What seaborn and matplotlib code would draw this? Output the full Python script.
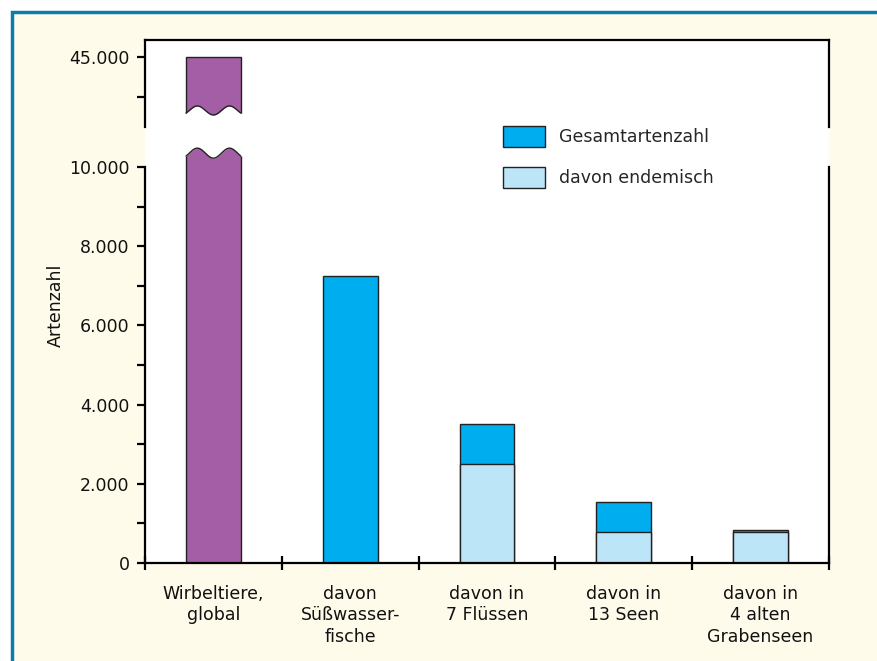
import seaborn as sns
import pandas as pd
import numpy as np
import matplotlib
import matplotlib.pyplot as plt
from matplotlib.patches import Patch, Rectangle
from matplotlib.ticker import FuncFormatter, FixedLocator

categories = ["Wirbeltiere,\nglobal", "davon\nSüßwasser-\nfische", "davon in\n7 Flüssen",
              "davon in\n13 Seen", "davon in\n4 alten\nGrabenseen"]
gesamt = [45000, 7250, 3500, 1540, 830]
endemisch = [np.nan, np.nan, 2500, 780, 780]
legend_labels = ["Gesamtartenzahl", "davon endemisch"]

purple = "#a45ea5"
blue = "#00adee"
lightblue = "#bde5f8"
cream = "#fefbea"
border = "#0a7daa"

df = pd.DataFrame({"kat": categories, "gesamt": gesamt, "endemisch": endemisch})

sns.set_theme(style="white")
plt.rcParams["font.family"] = ["DejaVu Sans"]
plt.rcParams["font.size"] = 12.5

fig = plt.figure(figsize=(8.77, 6.61), dpi=100, facecolor="white")
W, H = 877, 661
bg = Rectangle((12 / W, -0.1), 1.2, 1.1 - 12 / H,
               transform=fig.transFigure, facecolor=cream,
               edgecolor=border, linewidth=2.5, zorder=-10)
fig.patches.append(bg)

left, right = 145 / W, 829 / W
ax_lo = fig.add_axes([left, (H - 563) / H, right - left, (563 - 127) / H])
ax_hi = fig.add_axes([left, (H - 127) / H, right - left, (127 - 40) / H])

px = 39.6 / 1000  # pixel per Art
lo_top = (563 - 127) / px
hi_bot = 45000 - (127 - 57) / px
hi_top = 45000 + (57 - 40) / px

pal_total = [purple] + [blue] * 4
pal_end = [lightblue] * 5
for ax in (ax_lo, ax_hi):
    ax.set_facecolor("white")
    sns.barplot(data=df, x="kat", y="gesamt", hue="kat", palette=pal_total, legend=False,
                saturation=1, width=0.4, edgecolor="#222222", linewidth=1, ax=ax)
    sns.barplot(data=df, x="kat", y="endemisch", hue="kat", palette=pal_end, legend=False,
                saturation=1, width=0.4, edgecolor="#222222", linewidth=1, ax=ax)
    ax.set_xlim(-0.5, 4.5)
    ax.set_xlabel("")
    ax.set_ylabel("")
    for s in ax.spines.values():
        s.set_color("black")
        s.set_linewidth(1.6)

ax_lo.set_ylim(0, lo_top)
ax_hi.set_ylim(hi_bot, hi_top)

# wavy break of the first bar
bar = ax_lo.patches[0]
x0, bw = bar.get_x(), bar.get_width()
t = np.linspace(0, 1, 200)
xs = x0 + t * bw
amp = 5 / px
wave = -np.cos(2 * np.pi * (0.15 + 1.7 * t))
y_hi = 43650 + amp * wave * 0.9
y_lo = 10350 + amp * wave
xf = np.concatenate([[x0 - 0.02], xs, [x0 + bw + 0.02]])
ax_hi.fill_between(xf, hi_bot - 500, np.concatenate([[y_hi[0]], y_hi, [y_hi[-1]]]),
                   color="white", zorder=5, linewidth=0)
ax_hi.plot(xs, y_hi, color="#222222", lw=1, zorder=6)
ax_lo.fill_between(xf, np.concatenate([[y_lo[0]], y_lo, [y_lo[-1]]]), lo_top + 500,
                   color="white", zorder=5, linewidth=0)
ax_lo.plot(xs, y_lo, color="#222222", lw=1, zorder=6)

fmt = FuncFormatter(lambda v, p: f"{int(v):,}".replace(",", "."))

# lower axis
ax_lo.spines["top"].set_visible(False)
ax_lo.spines["left"].set_bounds(0, 10000)
ax_lo.spines["right"].set_bounds(0, 10000)
ax_lo.yaxis.set_major_locator(FixedLocator([0, 2000, 4000, 6000, 8000, 10000]))
ax_lo.yaxis.set_minor_locator(FixedLocator([1000, 3000, 5000, 7000, 9000]))
ax_lo.yaxis.set_major_formatter(fmt)
ax_lo.tick_params(axis="y", which="both", left=True, direction="out", length=6,
                  width=1.6, color="black", labelsize=12.5, pad=5, labelcolor="#111111")
ax_lo.xaxis.set_major_locator(FixedLocator(range(5)))
ax_lo.set_xticklabels(categories, linespacing=1.25)
ax_lo.xaxis.set_minor_locator(FixedLocator([-0.5, 0.5, 1.5, 2.5, 3.5, 4.5]))
ax_lo.tick_params(axis="x", which="major", length=0, pad=15.5, labelsize=12.5, labelcolor="#111111")
ax_lo.tick_params(axis="x", which="minor", bottom=True, direction="inout", length=10,
                  width=1.6, color="black")
ax_lo.set_ylabel("Artenzahl", fontsize=12.5, color="#111111")
ax_lo.yaxis.set_label_coords(-0.117, (563 - 305) / (563 - 127))

# upper axis
ax_hi.spines["bottom"].set_visible(False)
ax_hi.set_xticks([])
ax_hi.yaxis.set_major_locator(FixedLocator([45000]))
ax_hi.yaxis.set_minor_locator(FixedLocator([44000]))
ax_hi.yaxis.set_major_formatter(fmt)
ax_hi.tick_params(axis="y", which="both", left=True, direction="out", length=6,
                  width=1.6, color="black", labelsize=12.5, pad=5, labelcolor="#111111")

handles = [Patch(facecolor=blue, edgecolor="#222222", linewidth=1),
           Patch(facecolor=lightblue, edgecolor="#222222", linewidth=1)]
fig.legend(handles, legend_labels, loc="upper left", bbox_to_anchor=(503 / W, 1 - 126 / H),
           frameon=False, fontsize=12.5, handlelength=2.4, handleheight=1.5,
           handletextpad=0.8, labelspacing=1.15, borderpad=0, borderaxespad=0)

fig.savefig("out.png", dpi=100, facecolor="white")
